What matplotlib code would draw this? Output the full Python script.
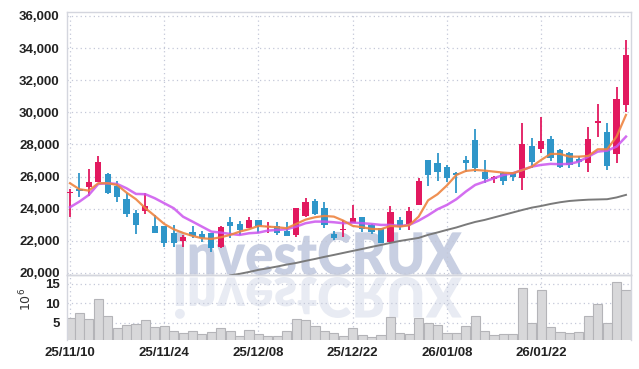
import numpy as np
import matplotlib
matplotlib.use("Agg")
import matplotlib.pyplot as plt
from matplotlib.textpath import TextPath
from matplotlib.patches import PathPatch
from matplotlib.font_manager import FontProperties
from matplotlib.transforms import Affine2D
from matplotlib.ticker import StrMethodFormatter

plt.rcParams["font.family"] = ["Liberation Sans Narrow", "Liberation Sans", "DejaVu Sans"]

# trading-day index labels (every 10 sessions)
TICK_POS = [0, 10, 20, 30, 40, 50]
TICK_LABELS = ["25/11/10", "25/11/24", "25/12/08", "25/12/22", "26/01/08", "26/01/22"]

OPEN = [24950, 25200, 25340, 25680, 26160, 25420, 24600, 23720, 23840, 22930,
        22930, 22470, 22010, 22570, 22430, 22470, 21640, 23200, 23050, 22820,
        23300, 22850, 22930, 22640, 22370, 23570, 24480, 24030, 22430, 22650,
        23130, 23470, 22990, 22780, 21950, 23300, 23050, 24230, 27030, 26870,
        26580, 26240, 27030, 28280, 26300, 25830, 26200, 26200, 25900, 27910,
        27700, 28320, 27660, 27450, 27080, 26830, 29320, 28800, 27410, 30460]
CLOSE = [25000, 25100, 25660, 26900, 24960, 24750, 23650, 23000, 24170, 22510,
         21850, 21890, 22260, 22300, 22160, 21580, 22840, 22930, 22680, 23300,
         22930, 22930, 22510, 22300, 24030, 24440, 23670, 22990, 22160, 22700,
         23400, 22720, 22570, 21890, 23820, 22880, 23880, 25730, 26100, 26310,
         25930, 26100, 26870, 26520, 25830, 26000, 25750, 26000, 28030, 26930,
         28220, 27140, 26620, 26720, 26930, 28320, 29480, 26660, 30830, 33570]
HIGH = [25210, 26230, 26500, 27280, 26250, 25750, 24950, 23920, 24960, 23610,
        22950, 22990, 22370, 22930, 22640, 22500, 22930, 23500, 23260, 23470,
        23320, 23200, 23200, 23200, 24050, 24690, 24600, 24440, 22640, 23300,
        24230, 23500, 23050, 22800, 24170, 23470, 24090, 25900, 27050, 27450,
        26730, 26310, 27290, 28950, 27040, 26020, 26300, 26300, 29320, 28390,
        29700, 28530, 27700, 27520, 27290, 29070, 30520, 29320, 31560, 34510]
LOW = [23500, 24750, 24800, 25650, 24900, 24400, 23500, 22430, 23650, 22470,
       21600, 21640, 21640, 22160, 21950, 21330, 21540, 22160, 22370, 22800,
       22470, 22510, 22370, 22300, 22220, 23500, 23600, 22780, 22050, 22260,
       23100, 22570, 22430, 21850, 21890, 22680, 22680, 24200, 25420, 25750,
       25685, 24960, 26310, 26310, 25590, 25620, 25480, 25750, 25170, 26520,
       27490, 26990, 26520, 26520, 26580, 26310, 28490, 26410, 26870, 30040]

MA5 = [25585, 25212, 25125, 25585, 25585, 25479, 25000, 24590, 24030, 23550,
       23050, 22720, 22490, 22304, 22160, 22117, 22220, 22366, 22573, 22720,
       22927, 22883, 22845, 22783, 23051, 23320, 23466, 23549, 23505, 23257,
       22927, 22845, 22740, 22720, 22927, 22883, 22970, 23505, 24520, 24900,
       25450, 26100, 26350, 26413, 26370, 26308, 26245, 26208, 26400, 26620,
       27036, 27410, 27410, 27242, 27242, 27285, 27700, 27700, 28487, 29838]
MA20 = [24090, 24440, 24857, 25540, 25585, 25540, 25270, 24920, 24900, 24650,
        24340, 24030, 23500, 23196, 22883, 22573, 22510, 22428, 22366, 22470,
        22510, 22635, 22677, 22720, 22883, 23095, 23196, 23196, 23155, 23095,
        23132, 23095, 23051, 22989, 22989, 22927, 22989, 23257, 23590, 23965,
        24234, 24590, 25063, 25480, 25685, 25897, 26102, 26208, 26413, 26620,
        26725, 26790, 26770, 26790, 26930, 27242, 27553, 27616, 27865, 28487]
MA60 = [None] * 17 + [
        19850, 19940, 20060, 20190, 20290, 20400, 20520, 20620, 20750, 20870,
        21000, 21120, 21245, 21370, 21490, 21620, 21740, 21870, 21990, 22085,
        22180, 22370, 22520, 22680, 22830, 23010, 23175, 23300, 23455, 23610,
        23765, 23920, 24065, 24170, 24295, 24400, 24480, 24525, 24560, 24575,
        24590, 24700, 24860]

VOLUME = [6.1, 7.6, 5.8, 11.2, 6.7, 3.5, 4.4, 4.6, 5.6, 3.8,
          4.1, 2.8, 2.4, 2.8, 2.05, 2.6, 3.5, 2.8, 1.5, 3.1,
          2.05, 1.5, 1.5, 2.8, 5.8, 5.6, 4.1, 2.8, 2.4, 1.5,
          3.5, 1.8, 1.2, 1.8, 6.5, 2.2, 2.0, 6.1, 4.8, 4.3,
          2.2, 2.2, 4.1, 6.8, 2.9, 1.8, 2.0, 2.0, 14.0, 4.8,
          13.5, 3.8, 2.6, 2.2, 2.5, 6.8, 9.7, 4.8, 15.6, 13.3]

UP, DOWN = "#e2195f", "#2f96c9"
GRID = dict(color="#c4c8d8", ls=(0, (1, 2.5)), lw=0.9)
W, H = 639, 369

x = np.arange(len(OPEN))
o, c = np.array(OPEN, float), np.array(CLOSE, float)
cols = [UP if cc >= oo else DOWN for oo, cc in zip(o, c)]

fig = plt.figure(figsize=(W / 100, H / 100), dpi=100, facecolor="white")
L, R = 66.7 / W, 630.7 / W
ax = fig.add_axes([L, 1 - 275 / H, R - L, (275 - 12.3) / H])
axv = fig.add_axes([L, 1 - 340 / H, R - L, 65 / H], sharex=ax)
for a in (ax, axv):
    a.set_facecolor("none")
    a.set_axisbelow(True)
    for s in a.spines.values():
        s.set_color("#d4d6de"); s.set_linewidth(1)
    a.tick_params(length=0, labelsize=9.5, colors="#222222", pad=5)
    for lab in a.get_xticklabels() + a.get_yticklabels():
        lab.set_fontweight("bold")
    a.grid(True, **GRID)
axv.spines["bottom"].set_visible(False)
ax.spines["bottom"].set_color("#c8c8cc")

# watermark + reflection (figure level, behind the axes)
fp = FontProperties(family=["Lato", "DejaVu Sans"], weight="heavy")
tp = TextPath((0, 0), "investCRUX", size=1, prop=fp)
ext = tp.get_extents()
sx = (462 - 175) / W / ext.width
sy = (275 - 231) / H / ext.height
base = Affine2D().translate(-ext.x0, -ext.y0)
t1 = base + Affine2D().scale(sx, sy).translate(175 / W, 1 - 275 / H) + fig.transFigure
t2 = base + Affine2D().scale(sx, -sy * 0.95).translate(175 / W, 1 - 277 / H) + fig.transFigure
fig.add_artist(PathPatch(tp, transform=t1, fc="#c8cfe2", ec="none", zorder=-2))
fig.add_artist(PathPatch(tp, transform=t2, fc="#e8ebf3", ec="none", zorder=-2))

# candles
ax.vlines(x, LOW, HIGH, colors=cols, lw=1.3, zorder=2)
body = np.maximum(np.abs(c - o), 90)
ax.bar(x, body, bottom=np.minimum(o, c), width=0.66, color=cols, zorder=3)

ax.plot(x, np.array(MA60, dtype=float), color="#7a7a7a", lw=1.4, zorder=4)
ax.plot(x, MA20, color="#cc55ee", lw=1.8, alpha=0.85, zorder=4)
ax.plot(x, MA5, color="#ee8440", lw=1.6, alpha=0.9, zorder=4)

ax.set_ylim(19870, 36230)
ax.set_yticks(range(20000, 36001, 2000))
ax.yaxis.set_major_formatter(StrMethodFormatter("{x:,.0f}"))
ax.set_xlim(-0.35, 59.5)
ax.set_xticks(TICK_POS)
ax.tick_params(labelbottom=False)

axv.bar(x, VOLUME, width=0.97, color="#d8d8da", edgecolor="#b4b4b8", lw=0.8, zorder=2)
axv.set_ylim(0.5, 17.3)
axv.set_yticks([5, 10, 15])
axv.set_xticks(TICK_POS)
axv.set_xticklabels(TICK_LABELS)
axv.set_ylabel(r"$10^6$", fontsize=9, color="#333333")
axv.yaxis.set_label_coords(-0.058, 0.62)

for a in (ax, axv):
    for lab in a.get_xticklabels() + a.get_yticklabels():
        lab.set_fontweight("bold")

fig.savefig("out.png", dpi=100, facecolor="white")
